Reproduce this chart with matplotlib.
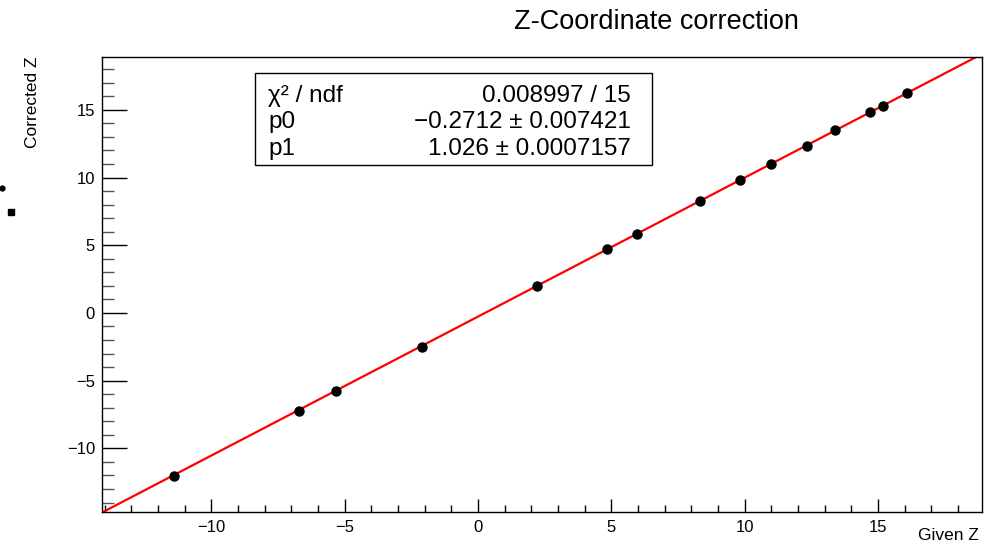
import numpy as np
import matplotlib
matplotlib.use("Agg")
import matplotlib.pyplot as plt
from matplotlib.lines import Line2D
from matplotlib.patches import Rectangle
from matplotlib.ticker import MultipleLocator

plt.rcParams['font.family'] = ['Liberation Sans', 'DejaVu Sans']

# measured points (given z, corrected z)
given_z = [-11.41, -6.72, -5.31, -2.10, 2.21, 4.85, 5.95, 8.34, 9.84,
           11.00, 12.32, 13.40, 14.72, 15.20, 16.10]
corrected_z = [-12.02, -7.24, -5.75, -2.48, 1.98, 4.73, 5.82, 8.25, 9.81,
               11.02, 12.35, 13.48, 14.84, 15.31, 16.24]

# fit results (pol1)
p0 = -0.2712
p1 = 1.026
stat_names = ["\u03c7\u00b2 / ndf", "p0", "p1"]
stat_values = ["0.008997 / 15", "\u22120.2712 \u00b1 0.007421", "1.026 \u00b1 0.0007157"]

xlim = (-14.1, 18.9)
ylim = (-14.7, 18.9)

fig = plt.figure(figsize=(10.02, 5.57), dpi=100)
ax = fig.add_axes([0.1018, 0.0808, 0.8782, 0.8169])

xs = np.array(xlim)
ax.plot(xs, p0 + p1 * xs, color='red', lw=1.6, zorder=2)
ax.plot(given_z, corrected_z, 'o', color='black', ms=6.5, zorder=3)

ax.set_xlim(*xlim)
ax.set_ylim(*ylim)
ax.xaxis.set_major_locator(MultipleLocator(5))
ax.xaxis.set_minor_locator(MultipleLocator(1))
ax.yaxis.set_major_locator(MultipleLocator(5))
ax.yaxis.set_minor_locator(MultipleLocator(1))
ax.tick_params(axis='x', which='major', direction='in', length=9.4, width=1,
               labelsize=12, pad=6, top=False)
ax.tick_params(axis='x', which='minor', direction='in', length=5, width=1, top=False)
ax.tick_params(axis='y', which='major', direction='in', length=18, width=1,
               labelsize=12, pad=5, right=False)
ax.tick_params(axis='y', which='minor', direction='in', length=8.6, width=1,
               color='#555555', right=False)
for s in ax.spines.values():
    s.set_linewidth(1)

fig.text(0.977, 0.0305, "Given Z", ha='right', va='baseline', fontsize=12.5)
fig.text(0.032, 0.8977, "Corrected Z", ha='center', va='top', rotation=90, fontsize=12.5)
fig.text(0.655, 0.948, "Z-Coordinate correction", ha='center', va='baseline', fontsize=19.5)

# stats box
fig.add_artist(Rectangle((0.2545, 0.704), 0.3962, 0.165, transform=fig.transFigure,
                         fill=True, facecolor='white', edgecolor='black', lw=1, zorder=5))
rows_y = [0.8169, 0.7702, 0.7217]
for name, val, yy in zip(stat_names, stat_values, rows_y):
    fig.text(0.2675, yy, name, ha='left', va='baseline', fontsize=17.5, zorder=6)
    fig.text(0.6297, yy, val, ha='right', va='baseline', fontsize=17.5, zorder=6)

# stray marks at left edge
fig.add_artist(Line2D([0.0015], [1 - 188 / 557], marker='o', color='black', ms=3.5,
                      transform=fig.transFigure))
fig.add_artist(Line2D([0.011], [1 - 212 / 557], marker='s', color='black', ms=4.5,
                      transform=fig.transFigure))

fig.savefig("out.png", dpi=100)
